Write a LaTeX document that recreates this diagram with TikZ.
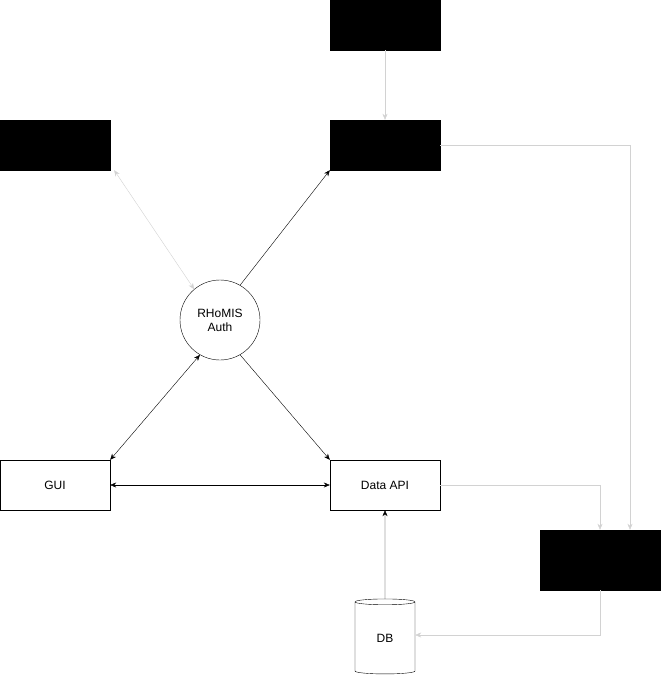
\documentclass[tikz,border=0pt]{standalone}
\usepackage{fontspec}
\setmainfont{Liberation Sans}
\usetikzlibrary{positioning, shapes.geometric, arrows.meta}
\definecolor{linegray}{RGB}{210,210,210}

\begin{document}
\begin{tikzpicture}[x=1pt, y=-1pt, font=\fontsize{12}{14}\selectfont,
box/.style={rectangle, draw=black, fill=white, minimum width=110pt, minimum height=50pt, align=center, inner sep=0pt},
hidden/.style={rectangle, draw=black, fill=black, minimum width=#1, minimum height=50pt, inner sep=0pt},
arrow/.style={-{Stealth[length=6pt,width=5pt]}, thin},
faint/.style={-{Stealth[length=6pt,width=5pt]}, thin, draw=linegray}
]
\useasboundingbox (0,0) rectangle (662,682);

% Hidden blocks
\node[hidden=110pt] (top) at (385,25) {};
\node[hidden=110pt] (left) at (55,145) {};
\node[hidden=110pt] (mid) at (385,145) {};
\node[hidden=120pt, minimum height=60pt] (right) at (600,560) {};

% Visible blocks
\node[circle, draw, minimum size=80pt, align=center, inner sep=0pt] (auth) at (220,320) {RHoMIS\\Auth};
\node[box] (gui) at (55,485) {GUI};
\node[box] (api) at (385,485) {Data API};
\node[cylinder, shape border rotate=90, draw, aspect=0.35, minimum width=60pt, minimum height=75pt, inner sep=0pt] (db) at (385,638) {DB};

% Arrows
\draw[faint] (top) -- (mid);
\draw[faint, {Stealth[length=6pt,width=5pt]}-{Stealth[length=6pt,width=5pt]}] (left.south east) ++(4,0) coordinate (l1) (l1) -- (auth.130);
\draw[arrow] (auth.60) -- (mid.south west);
\draw[arrow, <->, >={Stealth[length=6pt,width=5pt]}] (auth.240) -- (gui.north east);
\draw[arrow] (auth.300) -- (api.north west);
\draw[arrow, <->, >={Stealth[length=6pt,width=5pt]}] (gui) -- (api);
\draw[arrow] (db.north) -- (api.south);
\draw[faint] (mid.east) -| ([xshift=30pt]right.north);
\draw[faint] (api.east) -| (right.north);
\draw[faint] (right.south) |- ([yshift=3pt]db.east);

\end{tikzpicture}
\end{document}
